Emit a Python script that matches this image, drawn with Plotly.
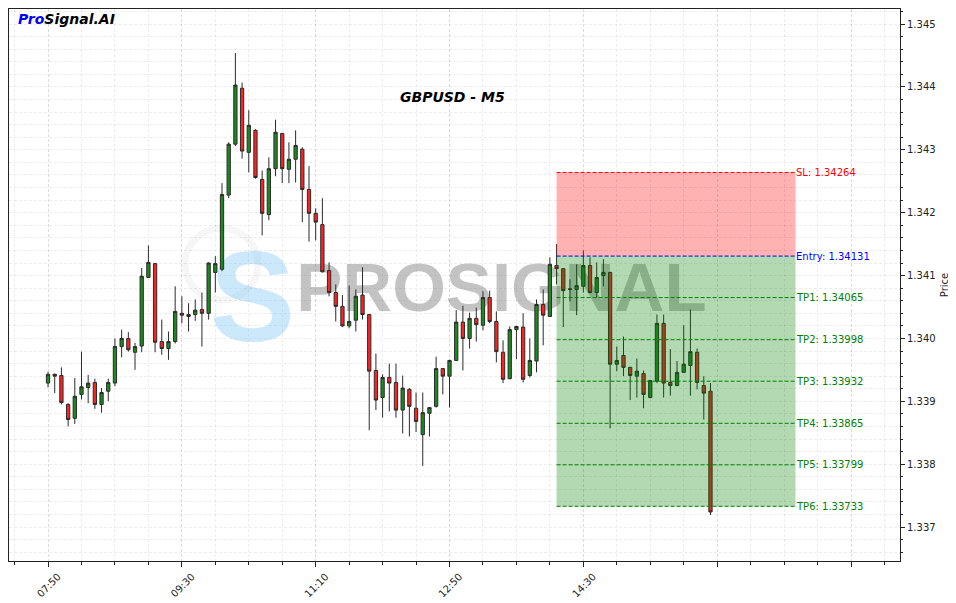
import pandas as pd
import plotly.graph_objects as go

# ---------------- data ----------------
symbol_title = "GBPUSD - M5"
session_day = "2024-01-01"
first_bar = "07:50"

opens = [1.33929, 1.33943, 1.33941, 1.33895, 1.33873, 1.33911, 1.33922, 1.33930, 1.33895, 1.33916,
         1.33929, 1.33987, 1.34000, 1.33978, 1.33988, 1.34097, 1.34119, 1.33995, 1.33984, 1.33995,
         1.34040, 1.34038, 1.34038, 1.34046, 1.34040, 1.34105, 1.34110, 1.34228, 1.34309, 1.34398,
         1.34296, 1.34331, 1.34253, 1.34197, 1.34270, 1.34326, 1.34269, 1.34285, 1.34301, 1.34237,
         1.34199, 1.34181, 1.34108, 1.34073, 1.34051, 1.34020, 1.34029, 1.34069, 1.34038, 1.33949,
         1.33906, 1.33938, 1.33930, 1.33886, 1.33919, 1.33889, 1.33847, 1.33881, 1.33892, 1.33952,
         1.33940, 1.33965, 1.34026, 1.34000, 1.34032, 1.34021, 1.34065, 1.34027, 1.33978, 1.33936,
         1.34014, 1.34018, 1.33941, 1.33964, 1.34054, 1.34035, 1.34116, 1.34111, 1.34079, 1.34078,
         1.34083, 1.34116, 1.34073, 1.34100, 1.34105, 1.33959, 1.33973, 1.33954, 1.33940, 1.33944,
         1.33906, 1.33932, 1.34024, 1.33930, 1.33925, 1.33946, 1.33957, 1.33978, 1.33925, 1.33916]
highs = [1.33947, 1.33944, 1.33954, 1.33897, 1.33937, 1.33979, 1.33942, 1.33936, 1.33921, 1.33936,
         1.34000, 1.34014, 1.34010, 1.33993, 1.34112, 1.34148, 1.34120, 1.34030, 1.34011, 1.34083,
         1.34067, 1.34056, 1.34062, 1.34073, 1.34121, 1.34131, 1.34247, 1.34312, 1.34454, 1.34407,
         1.34363, 1.34333, 1.34267, 1.34288, 1.34348, 1.34327, 1.34312, 1.34331, 1.34304, 1.34274,
         1.34207, 1.34223, 1.34121, 1.34086, 1.34069, 1.34084, 1.34078, 1.34113, 1.34039, 1.33976,
         1.33943, 1.33960, 1.33960, 1.33941, 1.33921, 1.33914, 1.33914, 1.33891, 1.33971, 1.33953,
         1.33966, 1.34045, 1.34052, 1.34041, 1.34049, 1.34075, 1.34076, 1.34043, 1.33997, 1.34019,
         1.34020, 1.34040, 1.34000, 1.34062, 1.34078, 1.34129, 1.34150, 1.34112, 1.34094, 1.34118,
         1.34140, 1.34129, 1.34121, 1.34126, 1.34106, 1.33987, 1.34003, 1.33955, 1.33968, 1.33949,
         1.33934, 1.34038, 1.34038, 1.33983, 1.33964, 1.34021, 1.34046, 1.33984, 1.33940, 1.33929]
lows = [1.33922, 1.33913, 1.33895, 1.33860, 1.33864, 1.33903, 1.33897, 1.33888, 1.33882, 1.33900,
        1.33924, 1.33970, 1.33979, 1.33950, 1.33978, 1.34096, 1.33978, 1.33974, 1.33966, 1.33992,
        1.34024, 1.34011, 1.34028, 1.33987, 1.34030, 1.34073, 1.34107, 1.34223, 1.34306, 1.34286,
        1.34264, 1.34254, 1.34164, 1.34188, 1.34258, 1.34247, 1.34247, 1.34248, 1.34185, 1.34154,
        1.34156, 1.34105, 1.34067, 1.34027, 1.34018, 1.34016, 1.34011, 1.34030, 1.33854, 1.33886,
        1.33874, 1.33884, 1.33874, 1.33849, 1.33844, 1.33851, 1.33797, 1.33844, 1.33890, 1.33911,
        1.33890, 1.33964, 1.33949, 1.33984, 1.33995, 1.34013, 1.34024, 1.33962, 1.33929, 1.33935,
        1.33967, 1.33930, 1.33938, 1.33946, 1.33989, 1.34034, 1.34086, 1.34018, 1.34059, 1.34037,
        1.34073, 1.34072, 1.34065, 1.34083, 1.33857, 1.33948, 1.33940, 1.33902, 1.33906, 1.33889,
        1.33905, 1.33929, 1.33906, 1.33909, 1.33924, 1.33946, 1.33909, 1.33919, 1.33871, 1.33719]
closes = [1.33943, 1.33940, 1.33898, 1.33871, 1.33908, 1.33923, 1.33929, 1.33895, 1.33914, 1.33930,
          1.33987, 1.34000, 1.33982, 1.33987, 1.34099, 1.34121, 1.33994, 1.33984, 1.33995, 1.34043,
          1.34037, 1.34035, 1.34045, 1.34040, 1.34120, 1.34119, 1.34229, 1.34309, 1.34403, 1.34298,
          1.34339, 1.34256, 1.34199, 1.34270, 1.34328, 1.34270, 1.34285, 1.34307, 1.34237, 1.34199,
          1.34185, 1.34106, 1.34073, 1.34051, 1.34020, 1.34027, 1.34067, 1.34038, 1.33948, 1.33902,
          1.33938, 1.33929, 1.33886, 1.33921, 1.33892, 1.33868, 1.33882, 1.33890, 1.33952, 1.33940,
          1.33965, 1.34026, 1.34000, 1.34032, 1.34022, 1.34065, 1.34027, 1.33979, 1.33935, 1.34014,
          1.34019, 1.33935, 1.33965, 1.34054, 1.34037, 1.34118, 1.34111, 1.34076, 1.34078, 1.34084,
          1.34116, 1.34073, 1.34097, 1.34105, 1.33959, 1.33965, 1.33954, 1.33941, 1.33948, 1.33911,
          1.33933, 1.34024, 1.33929, 1.33925, 1.33946, 1.33959, 1.33979, 1.33930, 1.33913, 1.33724]

level_names = ["SL", "Entry", "TP1", "TP2", "TP3", "TP4", "TP5", "TP6"]
level_values = [1.34264, 1.34131, 1.34065, 1.33998, 1.33932, 1.33865, 1.33799, 1.33733]
level_colors = ["red", "blue", "green", "green", "green", "green", "green", "green"]
zone_start = "14:10"
zone_end = "17:08:30"

tick_times = ["07:50", "09:30", "11:10", "12:50", "14:30", "16:10", "17:50"]
tick_labels = ["07:50", "09:30", "11:10", "12:50", "14:30", "", ""]
x_range = ["07:20:50", "18:26:37"]
y_range = [1.33646, 1.34524]

# ---------------- figure ----------------
times = pd.date_range(f"{session_day} {first_bar}", periods=len(opens), freq="5min")
def t(s):
    return f"{session_day} {s}"

FONT = "DejaVu Sans"
fig = go.Figure()

# watermark on the base (hidden) subplot, beneath the candles
fig.add_trace(go.Scatter(
    x=[0.2733], y=[0.457], mode="text", text=["S"],
    textfont=dict(family="Liberation Sans", size=128, color="rgba(120,195,245,0.38)", weight="bold"),
    hoverinfo="skip", showlegend=False, xaxis="x", yaxis="y", cliponaxis=False))
fig.add_trace(go.Scatter(
    x=[0.5527], y=[0.484], mode="text", text=["PROSIGNAL"],
    textfont=dict(family="Liberation Sans", size=69, color="rgba(128,128,128,0.47)", weight="bold"),
    hoverinfo="skip", showlegend=False, xaxis="x", yaxis="y", cliponaxis=False))

fig.add_trace(go.Candlestick(
    x=times, open=opens, high=highs, low=lows, close=closes,
    xaxis="x2", yaxis="y2",
    increasing=dict(fillcolor="#1a8a1a", line=dict(color="#2b2b2b", width=1)),
    decreasing=dict(fillcolor="#ff2020", line=dict(color="#2b2b2b", width=1)),
    whiskerwidth=0, showlegend=False, hoverinfo="x+y"))

shapes = [
    dict(type="circle", xref="paper", yref="paper", x0=0.1975, x1=0.2795, y0=0.473, y1=0.603,
         line=dict(color="rgba(225,225,225,0.3)", width=7), layer="below"),
    dict(type="rect", xref="x2", yref="y2", x0=t(zone_start), x1=t(zone_end),
         y0=level_values[1], y1=level_values[0], fillcolor="red", opacity=0.3,
         line=dict(width=0), layer="above"),
    dict(type="rect", xref="x2", yref="y2", x0=t(zone_start), x1=t(zone_end),
         y0=level_values[-1], y1=level_values[1], fillcolor="green", opacity=0.3,
         line=dict(width=0), layer="above"),
]
annotations = []
for name, val, col in zip(level_names, level_values, level_colors):
    shapes.append(dict(type="line", xref="x2", yref="y2", x0=t(zone_start), x1=t(zone_end),
                       y0=val, y1=val, line=dict(color=col, width=1, dash="4px,2px"), layer="above"))
    annotations.append(dict(xref="x2", yref="y2", x=t(zone_end), y=val, text=f"{name}: {val:.5f}",
                            showarrow=False, xanchor="left", yanchor="middle", xshift=-1,
                            font=dict(family=FONT, size=10, color=col)))

annotations.append(dict(xref="paper", yref="paper", x=0.4983, y=0.8406, showarrow=False,
                        text=f"<b><i>{symbol_title}</i></b>", xanchor="center", yanchor="middle",
                        font=dict(family=FONT, size=14, color="black")))
annotations.append(dict(xref="paper", yref="paper", x=0.0079, y=0.982, showarrow=False,
                        text="<b><i><span style='color:blue'>Pro</span>Signal.AI</i></b>",
                        xanchor="left", yanchor="middle",
                        font=dict(family=FONT, size=14, color="black")))

grid_col = "rgba(0,0,0,0.07)"
fig.update_layout(
    width=948, height=595,
    margin=dict(l=1, r=56, t=1, b=42),
    paper_bgcolor="white", plot_bgcolor="white",
    font=dict(family=FONT, size=10, color="#222222"),
    showlegend=False,
    shapes=shapes, annotations=annotations,
    xaxis=dict(domain=[0, 1], range=[0, 1], visible=False, fixedrange=True),
    yaxis=dict(domain=[0, 1], range=[0, 1], visible=False, fixedrange=True),
    xaxis2=dict(
        overlaying="x", anchor="y2", type="date", side="bottom",
        range=[t(x_range[0]), t(x_range[1])],
        tickmode="array", tickvals=[t(s) for s in tick_times], ticktext=tick_labels,
        tickangle=-45, ticklabelshift=10, ticks="outside", ticklen=5, tickcolor="#222",
        tickfont=dict(family=FONT, size=10, color="#222"),
        showline=True, mirror=True, linecolor="#222", linewidth=1,
        showgrid=True, gridcolor=grid_col, gridwidth=0.7, griddash="3px,2px",
        minor=dict(tickmode="linear", tick0=t(first_bar), dtick=25 * 60 * 1000,
                   ticks="outside", ticklen=3, tickcolor="#222",
                   showgrid=True, gridcolor=grid_col, gridwidth=0.7, griddash="3px,2px"),
        rangeslider=dict(visible=False), zeroline=False),
    yaxis2=dict(
        overlaying="y", anchor="x2", side="right",
        range=y_range, tickmode="linear", tick0=1.337, dtick=0.001, tickformat=".3f",
        ticks="outside", ticklen=4, tickcolor="#222",
        tickfont=dict(family=FONT, size=10, color="#222"),
        showline=True, mirror=True, linecolor="#222", linewidth=1,
        showgrid=True, gridcolor=grid_col, gridwidth=0.7, griddash="3px,2px",
        minor=dict(tickmode="linear", tick0=1.337, dtick=0.0002, ticks="outside", ticklen=2,
                   tickcolor="#222", showgrid=True, gridcolor=grid_col, gridwidth=0.7,
                   griddash="3px,2px"),
        title=dict(text="Price", font=dict(family=FONT, size=10, color="#222"), standoff=6),
        zeroline=False),
)

fig.write_html("out.html")
